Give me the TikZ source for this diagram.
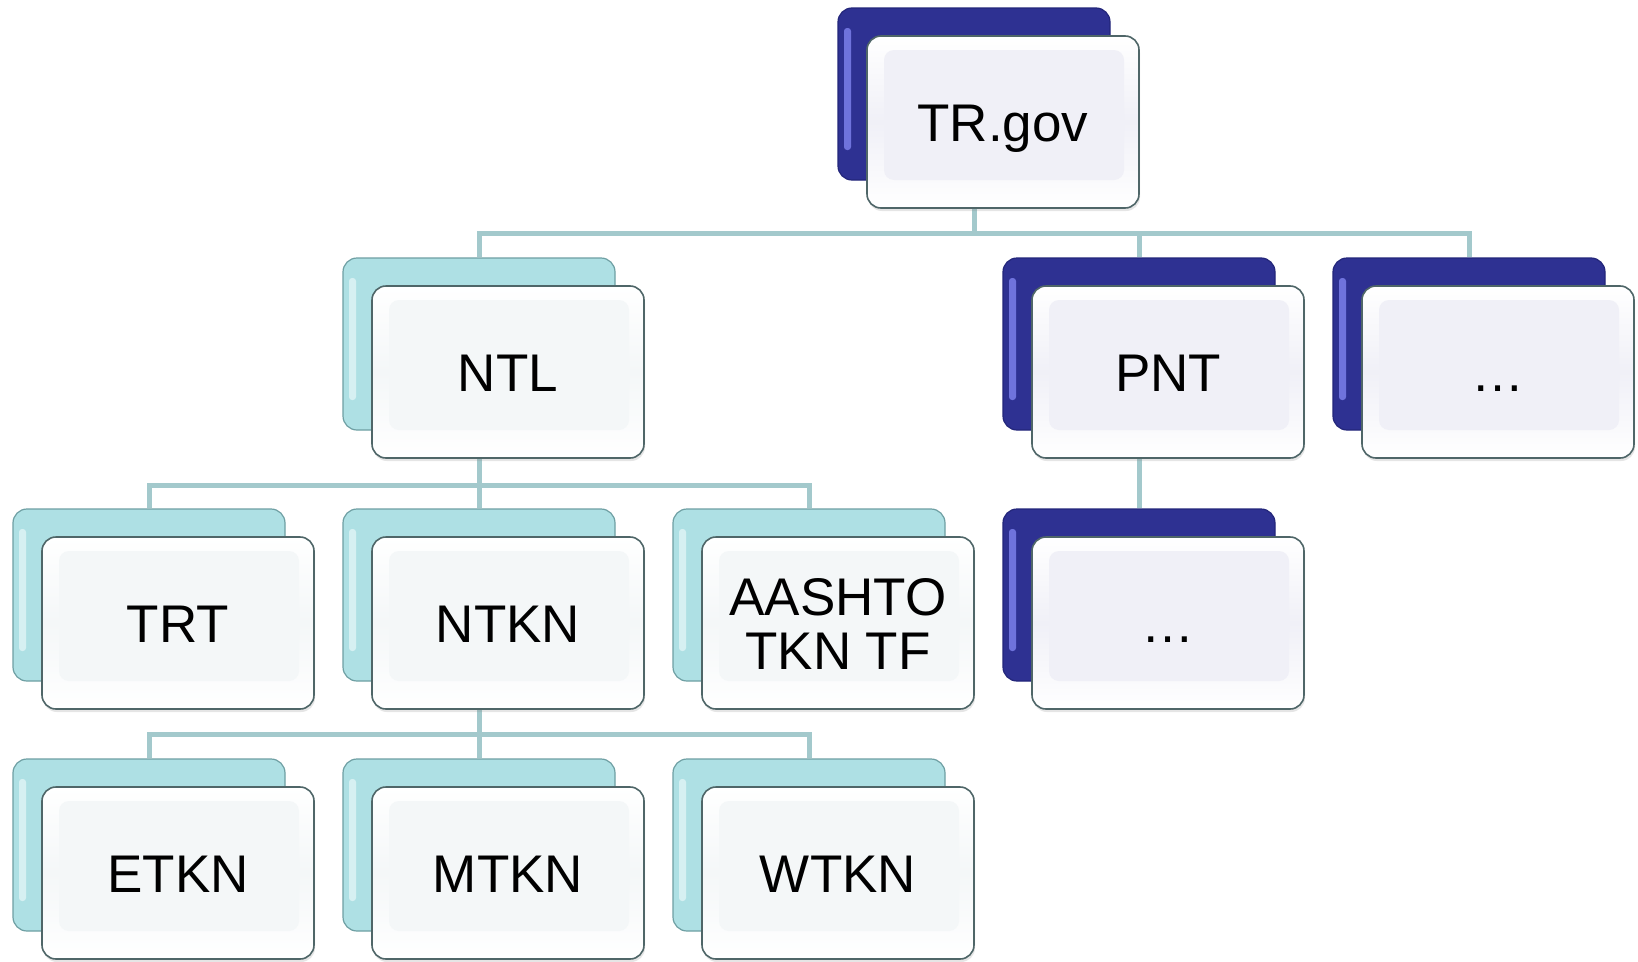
\documentclass[tikz,border=0pt]{standalone}
\usepackage{fontspec}
\setmainfont{Liberation Sans}
\usetikzlibrary{backgrounds,shadows}
\definecolor{navy}{HTML}{2E3192}
\definecolor{navyhi}{HTML}{6F73DC}
\definecolor{navyedge}{HTML}{23267A}
\definecolor{cyanb}{HTML}{AEE0E4}
\definecolor{cyanhi}{HTML}{D6F0F2}
\definecolor{cyanedge}{HTML}{6E9FA3}
\definecolor{frontedge}{HTML}{4F6668}
\definecolor{lavender}{HTML}{F0F0F7}
\definecolor{paleblue}{HTML}{F4F7F8}
\definecolor{connc}{HTML}{A3C9CC}
\tikzset{
  boxbase/.style={rectangle, minimum width=272pt, minimum height=172pt, inner sep=0pt, rounded corners=14pt},
  backdark/.style={boxbase, fill=navy, draw=navyedge, line width=1.2pt,
    path picture={\fill[navyhi, rounded corners=3pt] ([shift={(6pt,30pt)}]path picture bounding box.south west) rectangle ([shift={(13pt,-20pt)}]path picture bounding box.north west);}},
  backlight/.style={boxbase, fill=cyanb, draw=cyanedge, line width=1.2pt,
    path picture={\fill[cyanhi, rounded corners=3pt] ([shift={(6pt,30pt)}]path picture bounding box.south west) rectangle ([shift={(13pt,-20pt)}]path picture bounding box.north west);}},
  frontbase/.style={boxbase, draw=frontedge, line width=1.6pt, align=center,
    font=\fontsize{53}{54}\selectfont, text=black, text height=39pt, text depth=0pt,
    drop shadow={opacity=0.2, shadow xshift=1pt, shadow yshift=-3pt}},
  frontdark/.style={frontbase, fill=white,
    path picture={\shade[top color=white, bottom color=white, middle color=lavender] (path picture bounding box.south west) rectangle (path picture bounding box.north east);
      \fill[lavender, rounded corners=10pt] ([shift={(17pt,28pt)}]path picture bounding box.south west) rectangle ([shift={(-15pt,-14pt)}]path picture bounding box.north east);}},
  frontlight/.style={frontbase, fill=white,
    path picture={\shade[top color=white, bottom color=white, middle color=paleblue] (path picture bounding box.south west) rectangle (path picture bounding box.north east);
      \fill[paleblue, rounded corners=10pt] ([shift={(17pt,28pt)}]path picture bounding box.south west) rectangle ([shift={(-15pt,-14pt)}]path picture bounding box.north east);}},
  twoline/.style={text height=92pt, text depth=0pt},
  conn/.style={draw=connc, line width=5pt}
}
\newcommand\orgbox[6]{%
  \node[back#4] (#1B) at (#2+136,#3+86) {};
  \node[front#4,#5] (#1) at (#2+165,#3+114) {#6};
}
\begin{document}
\begin{tikzpicture}[x=1pt,y=-1pt]
\useasboundingbox (0,0) rectangle (1638,961);
\orgbox{trgov}{838}{8}{dark}{}{TR.gov}
\orgbox{ntl}{343}{258}{light}{}{NTL}
\orgbox{pnt}{1003}{258}{dark}{}{PNT}
\orgbox{dotsa}{1333}{258}{dark}{}{…}
\orgbox{trt}{13}{509}{light}{}{TRT}
\orgbox{ntkn}{343}{509}{light}{}{NTKN}
\orgbox{aashto}{673}{509}{light}{twoline}{AASHTO\\TKN TF}
\orgbox{dotsb}{1003}{509}{dark}{}{…}
\orgbox{etkn}{13}{759}{light}{}{ETKN}
\orgbox{mtkn}{343}{759}{light}{}{MTKN}
\orgbox{wtkn}{673}{759}{light}{}{WTKN}
\coordinate (busa) at (0,233);
\coordinate (busb) at (0,485);
\coordinate (busc) at (0,734);
\begin{scope}[on background layer]
\fill[white] (0,0) rectangle (1638,961);
\draw[conn] (trgovB.south) -- (trgovB.south |- busa) -| (ntlB.north);
\draw[conn] (trgovB.south) -- (trgovB.south |- busa) -| (pntB.north);
\draw[conn] (trgovB.south) -- (trgovB.south |- busa) -| (dotsaB.north);
\draw[conn] (ntlB.south) -- (ntlB.south |- busb) -| (trtB.north);
\draw[conn] (ntlB.south) -- (ntknB.north);
\draw[conn] (ntlB.south) -- (ntlB.south |- busb) -| (aashtoB.north);
\draw[conn] (pntB.south) -- (dotsbB.north);
\draw[conn] (ntknB.south) -- (ntknB.south |- busc) -| (etknB.north);
\draw[conn] (ntknB.south) -- (mtknB.north);
\draw[conn] (ntknB.south) -- (ntknB.south |- busc) -| (wtknB.north);
\end{scope}
\end{tikzpicture}
\end{document}
